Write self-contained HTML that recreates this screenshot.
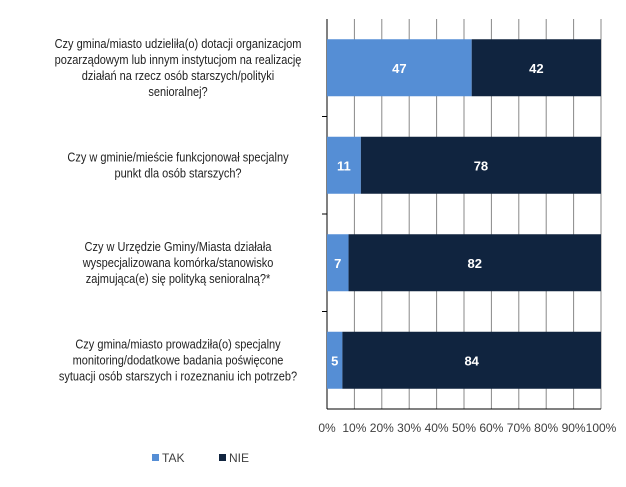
<!DOCTYPE html>
<html><head><meta charset="utf-8"><style>body{margin:0;background:#fff}svg{display:block;font-family:"Liberation Sans",sans-serif}</style></head>
<body>
<svg id="c" width="626" height="487" viewBox="0 0 626 487"></svg>
<script>
const categories=[
 ["Czy gmina/miasto udzieliła(o) dotacji organizacjom","pozarządowym lub innym instytucjom na realizację","działań na rzecz osób starszych/polityki","senioralnej?"],
 ["Czy w gminie/mieście funkcjonował specjalny","punkt dla osób starszych?"],
 ["Czy w Urzędzie Gminy/Miasta działała","wyspecjalizowana komórka/stanowisko","zajmująca(e) się polityką senioralną?*"],
 ["Czy gmina/miasto prowadziła(o) specjalny","monitoring/dodatkowe badania poświęcone","sytuacji osób starszych i rozeznaniu ich potrzeb?"]
];
const takValues=[47,11,7,5];
const nieValues=[42,78,82,84];
const tickLabels=["0%","10%","20%","30%","40%","50%","60%","70%","80%","90%","100%"];
const NS="http://www.w3.org/2000/svg",svg=document.getElementById('c');
const X0=327,X1=601,Y0=19,Y1=409,band=(Y1-Y0)/categories.length,barH=57;
const x=p=>X0+(X1-X0)*p/100;
function el(t,a,p){const e=document.createElementNS(NS,t);for(const k in a)e.setAttribute(k,a[k]);(p||svg).appendChild(e);return e;}
tickLabels.forEach((t,i)=>{const xx=x(i*10);
 const g=el('line',{x1:xx,x2:xx,y1:Y0,y2:Y1,stroke:i==0?'#000':'#888','stroke-width':1});
 
 const tx=el('text',{x:xx,y:432,'text-anchor':'middle','font-size':12,fill:'#404040'});tx.textContent=t;
 
});
el('line',{x1:X0,x2:X1,y1:Y1,y2:Y1,stroke:'#000'});
for(let i=1;i<categories.length;i++){const yy=Y0+band*i;el('line',{x1:X0-5,x2:X0,y1:yy,y2:yy,stroke:'#000'});}
categories.forEach((lines,i)=>{
 const cy=Y0+band*i+band/2,tot=takValues[i]+nieValues[i];
 const pt=takValues[i]/tot*100,y=cy-barH/2;
 const r1=el('rect',{x:x(0),y:y,width:x(pt)-x(0),height:barH,fill:'#558ED5'});
 
 const r2=el('rect',{x:x(pt),y:y,width:x(100)-x(pt),height:barH,fill:'#10243F'});
 
 [[takValues[i],(x(0)+x(pt))/2],[nieValues[i],(x(pt)+x(100))/2]].forEach(([v,cx])=>{
  const t=el('text',{x:cx,y:cy+5,'text-anchor':'middle','font-size':13,'font-weight':'bold',fill:'#fff'});t.textContent=v;
  
 });
 const g=el('g',{transform:`translate(178,0) scale(0.88,1)`});
 
 const top=cy-(lines.length-1)*8;
 lines.forEach((l,j)=>{const t=el('text',{x:0,y:top+j*16+4.5,'text-anchor':'middle','font-size':12.5,fill:'#222'},g);t.textContent=l;});
});
const l1=el('rect',{x:152,y:454,width:7,height:7,fill:'#558ED5'});
const t1=el('text',{x:162,y:462,'font-size':12,fill:'#404040'});t1.textContent='TAK';
const l2=el('rect',{x:219,y:454,width:7,height:7,fill:'#10243F'});
const t2=el('text',{x:229,y:462,'font-size':12,fill:'#404040'});t2.textContent='NIE';
</script>
</body></html>
